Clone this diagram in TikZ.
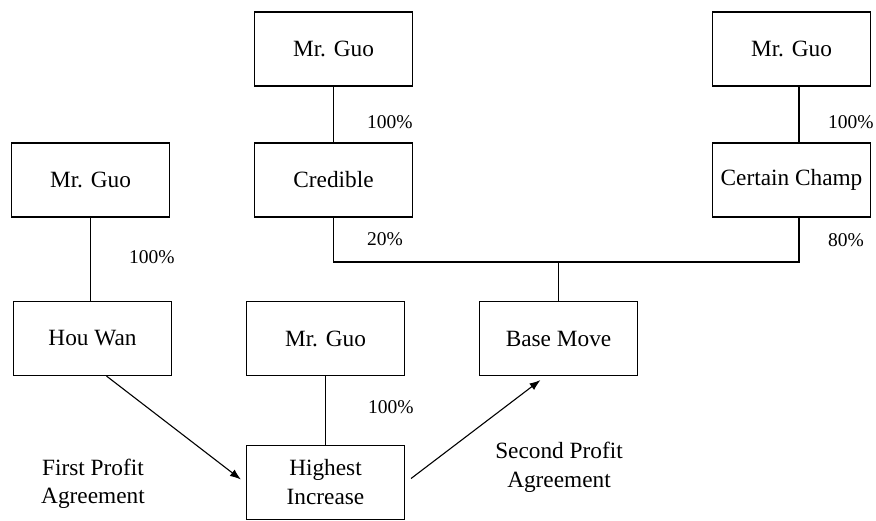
\documentclass[tikz,border=0pt]{standalone}
\usepackage{fontspec}
\setmainfont{Liberation Serif}
\usetikzlibrary{arrows.meta}
\tikzset{
  box/.style={draw, line width=1.1pt, minimum width=158pt, minimum height=74pt, inner sep=0pt,
    font=\rmfamily\fontsize{23.3}{29}\selectfont, align=center},
  pct/.style={anchor=west, inner sep=0pt, font=\rmfamily\fontsize{19.5}{23}\selectfont},
  note/.style={inner sep=0pt, align=center, font=\rmfamily\fontsize{23.3}{28.5}\selectfont},
  link/.style={line width=1.1pt},
  arrow/.style={line width=1.1pt, -{Latex[length=11pt,width=8pt]}}
}
\begin{document}
\begin{tikzpicture}[x=1pt,y=-1pt]
      \useasboundingbox (0,0) rectangle (876,520);
      % owners and companies
      \node[box] (guoA) at (333.5,49) {Mr. Guo};
      \node[box] (guoB) at (791.5,49) {Mr. Guo};
      \node[box] (cred) at (333.5,180) {Credible};
      \node[box] (champ) at (791.5,180) {Certain Champ};
      \node[box] (guoC) at (90.5,180) {Mr. Guo};
      \node[box] (hou) at (92.5,338.5) {Hou Wan};
      \node[box] (guoD) at (325.5,338.5) {Mr. Guo};
      \node[box] (base) at (558.5,338.5) {Base Move};
      \node[box] (high) at (325.5,482.5) {Highest\\Increase};
      % shareholdings
      \coordinate (bar) at (333.5,262);
      \coordinate (barR) at (799,262);
      \draw[link] (guoA.south) -- (cred.north);
      \draw[link] ([xshift=7.5pt]guoB.south) -- ([xshift=7.5pt]champ.north);
      \draw[link] (guoC.south) -- (guoC.south |- hou.north);
      \draw[link] (guoD.south) -- (high.north);
      \draw[link] (cred.south) -- (bar) -- (barR) -- (barR |- champ.south);
      \draw[link] (base.north |- bar) -- (base.north);
      \node[pct] (pA) at (367,122) {100\%};
      \node[pct] (pB) at (828,122) {100\%};
      \node[pct] (pC) at (367,239) {20\%};
      \node[pct] (pD) at (828,240) {80\%};
      \node[pct] (pE) at (129,257.5) {100\%};
      \node[pct] (pF) at (368,407) {100\%};
      % profit agreements
      \draw[arrow] ([xshift=14pt]hou.south) -- ([xshift=-5pt,yshift=3pt]high.west);
      \draw[arrow] ([xshift=6pt,yshift=4pt]high.east) -- ([xshift=-18pt,yshift=-4pt]base.south);
      \node[note] (first) at (93,484) {First Profit\\Agreement};
      \node[note] (second) at (559,467.5) {Second Profit\\Agreement};
    \end{tikzpicture}
\end{document}
